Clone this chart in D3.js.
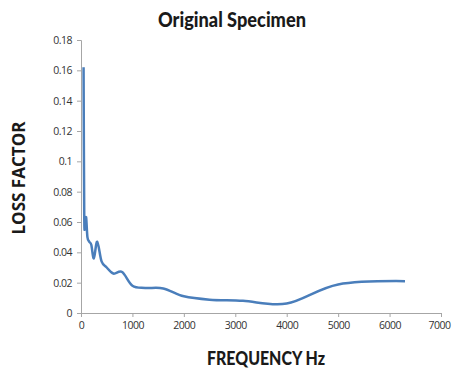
<!DOCTYPE html>
<html>
<head>
<meta charset="utf-8">
<script src="https://cdn.jsdelivr.net/npm/d3@7"></script>
<style>
  body { margin: 0; background: #fff; }
  svg { display: block; }
  .tick text { font-family: "Open Sans", "Liberation Sans", sans-serif; font-size: 10.5px; fill: #333; letter-spacing: -0.5px; }
</style>
</head>
<body>
<svg id="chart" width="453" height="372"></svg>
<script>
// 1/3 octave band centre frequencies and the measured loss factor
const frequencies = [50, 63, 80, 100, 125, 160, 200, 250, 315, 400, 500, 630, 800, 1000, 1250, 1600, 2000, 2500, 3150, 4000, 5000, 6300];
const lossFactor = [0.162, 0.064, 0.059, 0.063, 0.050, 0.047, 0.045, 0.036, 0.047, 0.034, 0.030, 0.026, 0.027, 0.018, 0.0165, 0.0162, 0.011, 0.0088, 0.0080, 0.0062, 0.0188, 0.021];
const xTicks = [0, 1000, 2000, 3000, 4000, 5000, 6000, 7000];
const yTicks = [0, 0.02, 0.04, 0.06, 0.08, 0.1, 0.12, 0.14, 0.16, 0.18];

const svg = d3.select('#chart');
const margin = { left: 81, right: 12, top: 40, bottom: 59 };
const width = 453 - margin.left - margin.right;
const height = 372 - margin.top - margin.bottom;

const x = d3.scaleLinear().domain([0, 7000]).range([0, width]);
const y = d3.scaleLinear().domain([0, 0.18]).range([height, 0]);

const g = svg.append('g').attr('transform', `translate(${margin.left},${margin.top})`);

// axes
const yAxis = g.append('g')
    .call(d3.axisLeft(y).tickValues(yTicks).tickSize(4).tickPadding(5)
        .tickFormat(d => d === 0 ? '0' : String(+d.toFixed(2))));
const xAxis = g.append('g')
    .attr('transform', `translate(0,${height})`)
    .call(d3.axisBottom(x).tickValues(xTicks).tickSize(4).tickPadding(5).tickFormat(d3.format('d')));

[yAxis, xAxis].forEach(a => {
    a.select('.domain').attr('stroke', '#a6a6a6');
    a.selectAll('.tick line').attr('stroke', '#a6a6a6');
});
// keep the last label inside the window
xAxis.selectAll('.tick text').filter(d => d === 7000).attr('dx', -2);

// data line
const data = frequencies.map((f, i) => ({ f, v: lossFactor[i] }));
g.append('path')
    .datum(data)
    .attr('fill', 'none')
    .attr('stroke', '#4a7ebb')
    .attr('stroke-width', 2.5)
    .attr('stroke-linejoin', 'round')
    .attr('d', d3.line().x(d => x(d.f)).y(d => y(d.v)).curve(d3.curveCardinal.tension(0)));

// title and axis labels
svg.append('text')
    .attr('x', 232).attr('y', 27)
    .attr('text-anchor', 'middle')
    .attr('font-family', 'Lato, "Open Sans", sans-serif')
    .attr('font-weight', 900)
    .attr('font-size', 21)
    .attr('textLength', 148).attr('lengthAdjust', 'spacingAndGlyphs')
    .attr('fill', '#1a1a1a')
    .text('Original Specimen');

svg.append('text')
    .attr('x', 266).attr('y', 365)
    .attr('text-anchor', 'middle')
    .attr('font-family', 'Lato, "Open Sans", sans-serif')
    .attr('font-weight', 900)
    .attr('font-size', 18)
    .attr('textLength', 118).attr('lengthAdjust', 'spacingAndGlyphs')
    .attr('fill', '#1a1a1a')
    .text('FREQUENCY Hz');

svg.append('text')
    .attr('transform', 'translate(25,178) rotate(-90)')
    .attr('text-anchor', 'middle')
    .attr('font-family', '"Open Sans", "Liberation Sans", sans-serif')
    .attr('font-weight', 'bold')
    .attr('font-size', 17)
    .attr('textLength', 113).attr('lengthAdjust', 'spacingAndGlyphs')
    .attr('fill', '#1a1a1a')
    .text('LOSS FACTOR');
</script>
</body>
</html>
